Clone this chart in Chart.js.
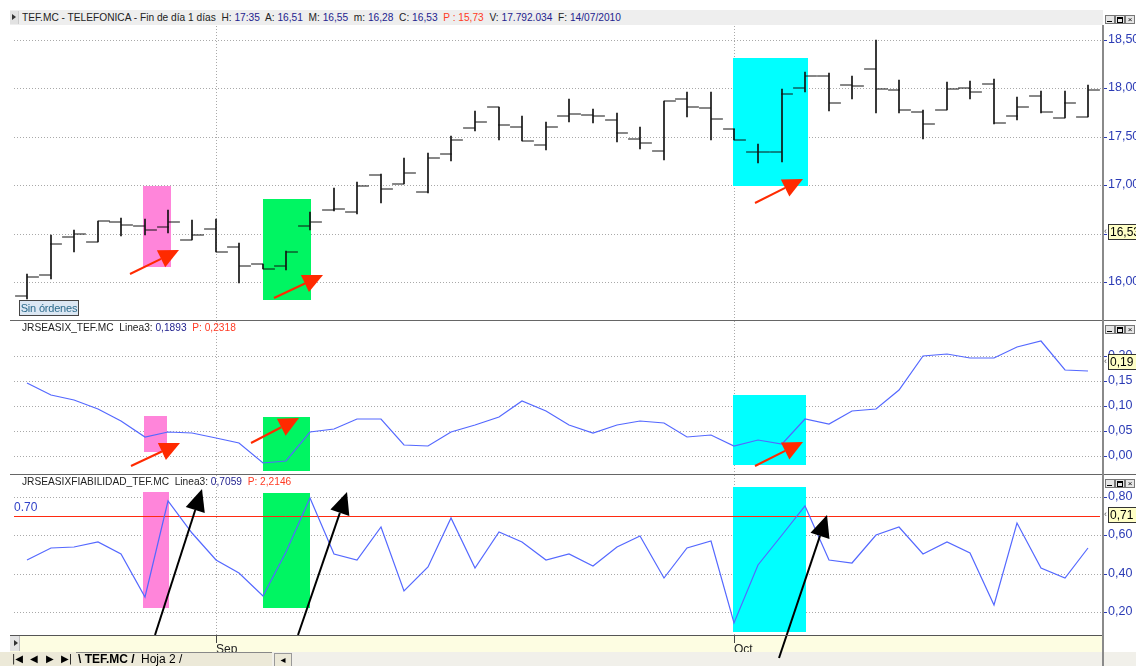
<!DOCTYPE html>
<html>
<head>
<meta charset="utf-8">
<script src="https://cdn.jsdelivr.net/npm/chart.js@4.4.1/dist/chart.umd.min.js"></script>
<style>
  body { margin: 0; width: 1136px; height: 666px; overflow: hidden; background: #fff; position: relative;
         font-family: "Liberation Sans", Arial, sans-serif; }
  .abs { position: absolute; }
  canvas { position: absolute; z-index: 2; }
  .top { z-index: 3; }
  .blue { color: #3142c8; }
  .val { color: #23238f; }
  .red { color: #ff3b24; }
  .txt { font-size: 11px; line-height: 13px; white-space: nowrap; color: #222; }
  .squeeze { transform: scaleX(0.925); transform-origin: 0 0; }
  .btns { left: 1105px; width: 31px; height: 9px; }
  .btns span { position: absolute; top: 0; width: 8px; height: 7px; border: 1px solid #777; background: #e6e6e6;
               font-size: 8px; line-height: 7px; text-align: center; color: #000; overflow: hidden; }
  .btns .mn::after { content: ""; position: absolute; left: 1px; top: 5px; width: 5px; height: 1px; background: #000; }
  .btns .mx::after { content: ""; position: absolute; left: 1px; top: 1px; width: 4px; height: 3px; border: 1px solid #000; border-top-width: 2px; }
  .tabbar { left: 0; top: 652px; width: 1136px; height: 14px; background: #ece9d8; }
  .nav { top: 653px; font-size: 10px; line-height: 12px; font-family: "DejaVu Sans", sans-serif; color: #000; }
</style>
</head>
<body>
<!-- background layer -->
<div class="abs" style="left:10px;top:10px;width:1093px;height:15px;background:#eeeeee"></div>
<div class="abs" style="left:10px;top:11px;width:8px;height:13px;background:#e2e2e2;border-right:1px solid #ccc"></div>
<div class="abs" style="left:10px;top:635px;width:1093px;height:17px;background:#fdfde2"></div>
<div class="abs" style="left:10px;top:636px;width:9px;height:15px;background:#e4e4e4;border-right:1px solid #bbb"></div>
<div class="abs tabbar"></div>
<div class="abs" style="left:272px;top:652px;width:864px;height:14px;background:#f1f0ea"></div>

<canvas id="pricePanel" width="1122" height="294" style="left:14px;top:26px"></canvas>
<canvas id="seasixPanel" width="1122" height="153" style="left:14px;top:321px"></canvas>
<canvas id="fiabPanel" width="1122" height="191" style="left:14px;top:475px"></canvas>

<!-- overlay layer -->
<div class="abs top" style="left:12px;top:14px;width:0;height:0;border-left:4px solid #333;border-top:3px solid transparent;border-bottom:3px solid transparent"></div>
<div class="abs top txt squeeze" style="left:22px;top:11px">TEF.MC - TELEFONICA - Fin de día 1 días&nbsp; H: <span class="val">17:35</span>&nbsp; A: <span class="val">16,51</span>&nbsp; M: <span class="val">16,55</span>&nbsp; m: <span class="val">16,28</span>&nbsp; C: <span class="val">16,53</span>&nbsp; <span class="red">P : 15,73</span>&nbsp; V: <span class="val">17.792.034</span>&nbsp; F: <span class="val">14/07/2010</span></div>

<div class="abs top txt blue squeeze" style="left:22px;top:321px">JRSEASIX_TEF.MC&nbsp; Linea3: <span class="val">0,1893</span>&nbsp; <span class="red">P: 0,2318</span></div>
<div class="abs top txt blue squeeze" style="left:22px;top:475px">JRSEASIXFIABILIDAD_TEF.MC&nbsp; Linea3: <span class="val">0,7059</span>&nbsp; <span class="red">P: 2,2146</span></div>
<div class="abs top blue" style="left:14px;top:501px;font-size:12px;line-height:13px">0.70</div>

<div class="abs top" style="left:19px;top:300px;width:58px;height:14px;border:1px solid #444;background:#dbe7f3;color:#2c6b8c;font-size:11px;line-height:14px;white-space:nowrap;overflow:hidden;text-align:center;letter-spacing:-0.2px">Sin órdenes</div>

<div class="abs top" style="left:10px;top:320px;width:1126px;height:1px;background:#666"></div>
<div class="abs top" style="left:10px;top:474px;width:1126px;height:1px;background:#666"></div>
<div class="abs top" style="left:10px;top:635px;width:1093px;height:1px;background:#555"></div>
<div class="abs top" style="left:1102px;top:25px;width:2px;height:641px;background:#8a8a8a"></div>

<div class="abs top btns" style="top:15px"><span class="mn" style="left:0"></span><span class="mx" style="left:10px"></span><span style="left:20px">×</span></div>
<div class="abs top btns" style="top:325px"><span class="mn" style="left:0"></span><span class="mx" style="left:10px"></span><span style="left:20px">×</span></div>
<div class="abs top btns" style="top:479px"><span class="mn" style="left:0"></span><span class="mx" style="left:10px"></span><span style="left:20px">×</span></div>

<div class="abs top" style="left:14px;top:640px;width:0;height:0;border-left:4px solid #333;border-top:3px solid transparent;border-bottom:3px solid transparent"></div>
<div class="abs top nav" style="left:12px">|◀</div>
<div class="abs top nav" style="left:30px">◀</div>
<div class="abs top nav" style="left:46px">▶</div>
<div class="abs top nav" style="left:61px">▶|</div>
<div class="abs top" style="left:76px;top:652px;width:196px;height:1px;background:#888"></div>
<div class="abs top txt" style="left:78px;top:653px;font-size:12px;font-weight:bold;color:#000">\ TEF.MC /</div>
<div class="abs top txt" style="left:141px;top:653px;font-size:12px;color:#000">Hoja 2 /</div>
<div class="abs top nav" style="left:274px;width:16px;height:12px;border:1px solid #999;background:#ece9d8;text-align:center">◂</div>

<script>
// price bars (daily)
const opens  = [15.85,16.07,16.46,16.41,16.62,16.58,16.57,16.43,16.55,16.36,16.19,16.17,16.58,16.74,16.72,17.11,17.01,16.93,17.32,17.59,17.81,17.60,17.42,17.72,17.73,17.67,17.48,17.35,17.89,17.80,17.58,17.34,17.34,18.00,18.13,18.04,18.20,17.98,17.76,17.78,18.00,18.05,17.71,17.92,17.69,17.70];
const highs  = [16.08,16.49,16.54,16.63,16.66,16.65,16.74,16.64,16.65,16.40,16.19,16.32,16.72,16.97,17.03,17.12,17.28,17.33,17.51,17.77,17.81,17.72,17.65,17.89,17.79,17.75,17.60,17.87,17.96,17.96,17.58,17.43,17.99,18.17,18.16,18.13,18.50,18.09,17.78,18.07,18.08,18.10,17.91,17.97,17.97,18.04];
const lows   = [15.82,16.03,16.31,16.41,16.47,16.49,16.51,16.43,16.31,15.99,16.13,16.12,16.54,16.73,16.70,16.82,17.01,16.92,17.25,17.56,17.47,17.46,17.36,17.65,17.64,17.45,17.37,17.26,17.70,17.47,17.47,17.23,17.24,17.96,17.77,17.89,17.75,17.75,17.48,17.78,17.89,17.63,17.67,17.75,17.69,17.70];
const closes = [16.05,16.39,16.50,16.63,16.59,16.54,16.62,16.49,16.31,16.16,16.13,16.31,16.62,16.75,16.99,16.96,17.13,17.28,17.47,17.65,17.62,17.46,17.60,17.74,17.72,17.54,17.44,17.87,17.81,17.68,17.47,17.34,17.94,18.13,17.85,18.02,17.99,17.78,17.63,17.99,17.96,17.64,17.81,17.76,17.85,17.98];

// indicator lines
const seasixLine = [0.147,0.123,0.113,0.095,0.070,0.039,0.048,0.047,0.037,0.027,-0.013,-0.010,0.048,0.055,0.075,0.075,0.023,0.021,0.048,0.063,0.078,0.110,0.090,0.063,0.047,0.062,0.071,0.066,0.039,0.043,0.020,0.033,0.025,0.075,0.065,0.090,0.095,0.133,0.200,0.205,0.197,0.197,0.218,0.230,0.172,0.170];
const fiabLine   = [0.472,0.536,0.541,0.567,0.503,0.281,0.780,0.610,0.472,0.403,0.285,0.515,0.792,0.501,0.472,0.645,0.312,0.437,0.688,0.428,0.616,0.567,0.472,0.503,0.441,0.541,0.598,0.377,0.536,0.570,0.146,0.446,0.601,0.752,0.472,0.455,0.601,0.645,0.503,0.567,0.506,0.238,0.665,0.428,0.377,0.532];

// axes
const monthTickIdx = [8, 30];
const monthLabels = ['Sep', 'Oct'];
const priceTicks = [16, 16.5, 17, 17.5, 18, 18.5];
const seasixTicks = [0, 0.05, 0.10, 0.15, 0.20];
const fiabTicks = [0.2, 0.4, 0.6, 0.8];
const fiabLevel = 0.70;
const lastPrice = 16.53, lastSeasix = 0.19, lastFiab = 0.71;

// highlighted zones (bar index range, value range)
const PINK = '#ff85da', GREEN = '#00f562', CYAN = '#00ffff';
const priceBoxes = [
  {x0: 4.93, x1: 6.11, y0: 16.15, y1: 16.99, c: PINK},
  {x0: 9.99, x1: 12.03, y0: 15.81, y1: 16.86, c: GREEN},
  {x0: 29.95, x1: 33.1, y0: 16.99, y1: 18.31, c: CYAN}
];
const seasixBoxes = [
  {x0: 4.97, x1: 5.95, y0: 0.009, y1: 0.080, c: PINK},
  {x0: 10.02, x1: 11.99, y0: -0.030, y1: 0.078, c: GREEN},
  {x0: 29.93, x1: 33.04, y0: -0.018, y1: 0.123, c: CYAN}
];
const fiabBoxes = [
  {x0: 4.92, x1: 6.02, y0: 0.224, y1: 0.826, c: PINK},
  {x0: 9.99, x1: 11.99, y0: 0.224, y1: 0.821, c: GREEN},
  {x0: 29.93, x1: 33.04, y0: 0.096, y1: 0.849, c: CYAN}
];
const priceArrows = [
  {x0: 4.37, y0: 16.08, x1: 6.46, y1: 16.33},
  {x0: 10.47, y0: 15.83, x1: 12.57, y1: 16.07},
  {x0: 30.87, y0: 16.82, x1: 32.9, y1: 17.06}
];
const seasixArrows = [
  {x0: 4.41, y0: -0.019, x1: 6.49, y1: 0.027},
  {x0: 9.5, y0: 0.027, x1: 11.53, y1: 0.077},
  {x0: 30.86, y0: -0.020, x1: 32.9, y1: 0.029}
];
const fiabArrows = [
  {x0: 5.41, y0: 0.082, x1: 7.44, y1: 0.839},
  {x0: 11.50, y0: 0.082, x1: 13.58, y1: 0.826},
  {x0: 31.87, y0: -0.039, x1: 33.93, y1: 0.705}
];

const xMin = -0.55, xMax = 45.63;
const idx = opens.map((_, i) => i);

Chart.defaults.font.family = '"Liberation Sans", Arial, sans-serif';

function drawArrow(ctx, x0, y0, x1, y1, color, lw, headLen, headW) {
    const dx = x1 - x0, dy = y1 - y0, len = Math.hypot(dx, dy);
    const ux = dx / len, uy = dy / len;
    const bx = x1 - ux * headLen, by = y1 - uy * headLen;
    ctx.strokeStyle = color;
    ctx.lineWidth = lw;
    ctx.beginPath();
    ctx.moveTo(x0, y0);
    ctx.lineTo(bx, by);
    ctx.stroke();
    ctx.fillStyle = color;
    ctx.beginPath();
    ctx.moveTo(x1, y1);
    ctx.lineTo(bx - uy * headW / 2, by + ux * headW / 2);
    ctx.lineTo(bx + uy * headW / 2, by - ux * headW / 2);
    ctx.closePath();
    ctx.fill();
}

// boxes behind the data, arrows over it, last-value tag on the axis
function makeMarks(m) {
    return {
        id: 'marks',
        beforeDatasetsDraw(chart) {
            const {ctx, chartArea, scales: {x, y}} = chart;
            ctx.save();
            m.boxes.forEach(b => {
                const l = x.getPixelForValue(b.x0), r = x.getPixelForValue(b.x1);
                const t = y.getPixelForValue(b.y1), bt = y.getPixelForValue(b.y0);
                ctx.fillStyle = b.c;
                ctx.fillRect(l, t, r - l, bt - t);
            });
            if (m.level !== undefined) {
                const ly = Math.round(y.getPixelForValue(m.level)) + 0.5;
                ctx.strokeStyle = '#ff2a10';
                ctx.lineWidth = 1;
                ctx.beginPath();
                ctx.moveTo(chartArea.left, ly);
                ctx.lineTo(chartArea.right - 3, ly);
                ctx.stroke();
            }
            ctx.restore();
        },
        afterDatasetsDraw(chart) {
            const {ctx, scales: {x, y}} = chart;
            ctx.save();
            m.arrows.forEach(a => {
                drawArrow(ctx, x.getPixelForValue(a.x0), y.getPixelForValue(a.y0),
                    x.getPixelForValue(a.x1), y.getPixelForValue(a.y1),
                    m.arrowColor, 2, m.headLen, m.headW);
            });
            ctx.restore();
        },
        afterDraw(chart) {
            const {ctx, chartArea, scales: {y}} = chart;
            const ty = Math.round(y.getPixelForValue(m.tag)) + 1;
            const left = chartArea.right + 5;
            ctx.save();
            ctx.fillStyle = '#ffffc6';
            ctx.fillRect(left, ty - 8, 34, 16);
            ctx.strokeStyle = '#333';
            ctx.lineWidth = 1;
            ctx.strokeRect(left + 0.5, ty - 7.5, 34, 15);
            ctx.fillStyle = '#000';
            ctx.font = '12px "Liberation Sans", Arial, sans-serif';
            ctx.textBaseline = 'middle';
            ctx.fillText(m.tagText, left + 2, ty + 1);
            ctx.fillStyle = '#555';
            ctx.font = '9px "Liberation Sans", Arial, sans-serif';
            ctx.fillText('‹', left - 4, ty);
            ctx.restore();
        }
    };
}

function commaFmt(v) {
    return v.toFixed(2).replace('.', ',');
}

function panelScales(yMin, yMax, yTicks, showMonths) {
    return {
        x: {
            type: 'linear', min: xMin, max: xMax, offset: false, alignToPixels: true,
            afterBuildTicks: s => { s.ticks = monthTickIdx.map(v => ({value: v})); },
            afterFit: s => {
                s.paddingLeft = 0; s.paddingRight = 0;
                if (showMonths) s.height = 17;
            },
            grid: { color: '#a9a9a9', offset: false, drawTicks: showMonths, tickLength: 8, tickColor: '#444', tickBorderDash: [] },
            border: { display: false, dash: [1, 2] },
            ticks: {
                display: showMonths, align: 'start', padding: -1, maxRotation: 0, autoSkip: false,
                color: '#222', font: { size: 12 },
                callback: (v, i) => monthLabels[i]
            }
        },
        y: {
            position: 'right', min: yMin, max: yMax, alignToPixels: true,
            afterBuildTicks: s => { s.ticks = yTicks.map(v => ({value: v})); },
            afterFit: s => { s.width = 33; s.paddingTop = 0; s.paddingBottom = 0; },
            grid: { color: '#a9a9a9', tickLength: 4, tickColor: '#2b3bb5', tickBorderDash: [] },
            border: { display: false, dash: [1, 2] },
            ticks: { color: '#2b3bb5', padding: 1, font: { size: 12.5 }, callback: v => commaFmt(v) }
        }
    };
}

function baseOptions(scales, bottomPad) {
    return {
        responsive: false,
        animation: false,
        events: [],
        layout: { autoPadding: false, padding: { left: 0, right: 0, top: 0, bottom: bottomPad } },
        plugins: { legend: { display: false }, tooltip: { enabled: false } },
        scales
    };
}

// --- Price panel ---
new Chart(document.getElementById('pricePanel'), {
    type: 'scatter',
    data: {
        datasets: [{
            type: 'bar',
            data: idx.map(i => ({x: i, y: [lows[i], highs[i]]})),
            backgroundColor: '#111',
            borderWidth: 0,
            barThickness: 1,
            grouped: false
        }, {
            data: idx.map(i => ({x: i - 0.25, y: opens[i]})),
            showLine: false,
            pointStyle: 'line',
            pointRadius: 5.9,
            pointBorderColor: '#111',
            pointBorderWidth: 1
        }, {
            data: idx.map(i => ({x: i + 0.25, y: closes[i]})),
            showLine: false,
            pointStyle: 'line',
            pointRadius: 5.9,
            pointBorderColor: '#111',
            pointBorderWidth: 1
        }]
    },
    options: baseOptions(panelScales(15.607, 18.645, priceTicks, false), 0),
    plugins: [makeMarks({boxes: priceBoxes, arrows: priceArrows, arrowColor: '#ff2a00', headLen: 20, headW: 19,
                         tag: lastPrice, tagText: commaFmt(lastPrice)})]
});

// --- JRSEASIX panel ---
new Chart(document.getElementById('seasixPanel'), {
    type: 'scatter',
    data: {
        datasets: [{
            data: idx.map(i => ({x: i, y: seasixLine[i]})),
            showLine: true,
            borderColor: '#5468ff',
            borderWidth: 1.2,
            pointRadius: 0,
            tension: 0
        }]
    },
    options: baseOptions(panelScales(-0.0354, 0.2706, seasixTicks, false), 0),
    plugins: [makeMarks({boxes: seasixBoxes, arrows: seasixArrows, arrowColor: '#ff2a00', headLen: 20, headW: 19,
                         tag: lastSeasix, tagText: commaFmt(lastSeasix)})]
});

// --- JRSEASIXFIABILIDAD panel ---
new Chart(document.getElementById('fiabPanel'), {
    type: 'scatter',
    data: {
        datasets: [{
            data: idx.map(i => ({x: i, y: fiabLine[i]})),
            showLine: true,
            borderColor: '#5468ff',
            borderWidth: 1.2,
            pointRadius: 0,
            tension: 0
        }]
    },
    options: baseOptions(panelScales(0.0821, 0.9132, fiabTicks, true), 14),
    plugins: [makeMarks({boxes: fiabBoxes, arrows: fiabArrows, arrowColor: '#000', headLen: 22, headW: 20,
                         level: fiabLevel, tag: lastFiab, tagText: commaFmt(lastFiab)})]
});
</script>
</body>
</html>
